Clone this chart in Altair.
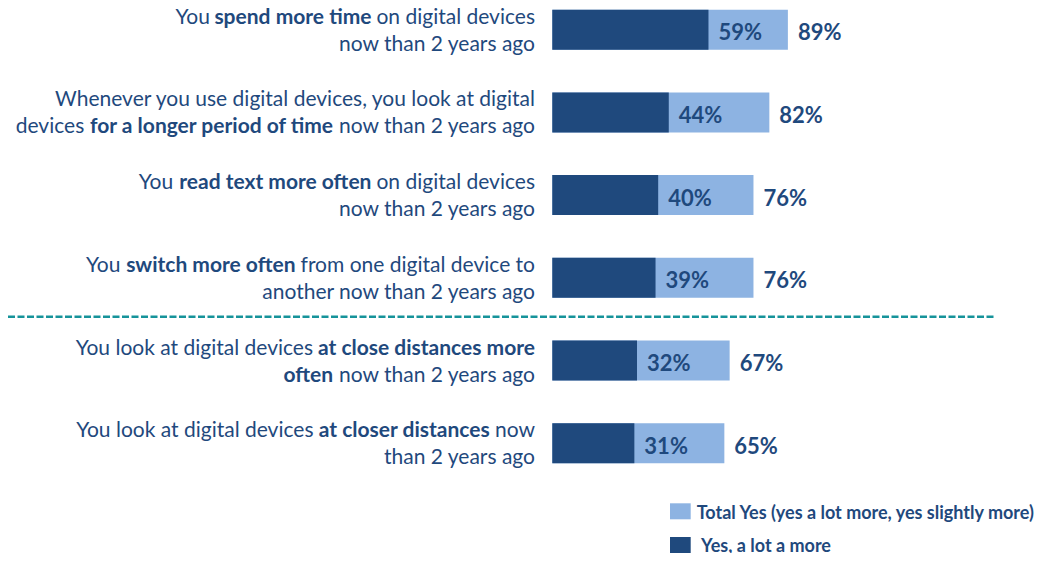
import os
import glob
import struct

import altair as alt
import pandas as pd

# ---------------- data ----------------
keys = ["Q1", "Q2", "Q3", "Q4", "Q5", "Q6"]
yes_a_lot = [59, 44, 40, 39, 32, 31]
total_yes = [89, 82, 76, 76, 67, 65]
series_names = ["Total Yes (yes a lot more, yes slightly more)", "Yes, a lot a more"]

# statement text: list of lines, each line a list of (segment, weight)
label_lines = [
    [[("You", "normal"), ("spend more time", "bold"), ("on digital devices", "normal")],
     [("now than 2 years ago", "normal")]],
    [[("Whenever you use digital devices, you look at digital", "normal")],
     [("devices", "normal"), ("for a longer period of time", "bold"), ("now than 2 years ago", "normal")]],
    [[("You", "normal"), ("read text more often", "bold"), ("on digital devices", "normal")],
     [("now than 2 years ago", "normal")]],
    [[("You", "normal"), ("switch more often", "bold"), ("from one digital device to", "normal")],
     [("another now than 2 years ago", "normal")]],
    [[("You look at digital devices", "normal"), ("at close distances more", "bold")],
     [("often", "bold"), ("now than 2 years ago", "normal")]],
    [[("You look at digital devices", "normal"), ("at closer distances", "bold"), ("now", "normal")],
     [("than 2 years ago", "normal")]],
]

# ---------------- style ----------------
DARK = "#1F497D"
LIGHT = "#8DB3E2"
TEXT = "#1F497D"
TEAL = "#16939A"
W, H = 1035, 545
LABEL_SIZE = 21
PCT_SIZE = 22
LEG_SIZE = 18


# ---------------- font metrics (for mixed-weight labels) ----------------
def _u16(b, o):
    return struct.unpack_from(">H", b, o)[0]


def _u32(b, o):
    return struct.unpack_from(">I", b, o)[0]


def load_metrics(path):
    b = open(path, "rb").read()
    base = _u32(b, 12) if b[:4] == b"ttcf" else 0
    num = _u16(b, base + 4)
    tables = {}
    for i in range(num):
        r = base + 12 + 16 * i
        tables[b[r:r + 4].decode("latin-1")] = _u32(b, r + 8)
    upem = _u16(b, tables["head"] + 18)
    nhm = _u16(b, tables["hhea"] + 34)
    hm = tables["hmtx"]
    adv = [_u16(b, hm + 4 * i) for i in range(nhm)]
    cm = tables["cmap"]
    sub = None
    for i in range(_u16(b, cm + 2)):
        pid = _u16(b, cm + 4 + 8 * i)
        eid = _u16(b, cm + 6 + 8 * i)
        off = _u32(b, cm + 8 + 8 * i)
        if _u16(b, cm + off) == 4 and ((pid == 3 and eid in (0, 1)) or pid == 0):
            sub = cm + off
            break
    cmap = {}
    segx2 = _u16(b, sub + 6)
    seg = segx2 // 2
    ends = sub + 14
    starts = ends + segx2 + 2
    deltas = starts + segx2
    ros = deltas + segx2
    for i in range(seg):
        e = _u16(b, ends + 2 * i)
        s = _u16(b, starts + 2 * i)
        d = _u16(b, deltas + 2 * i)
        ro = _u16(b, ros + 2 * i)
        for c in range(s, min(e, 0x2FF) + 1):
            if ro == 0:
                g = (c + d) & 0xFFFF
            else:
                g = _u16(b, ros + 2 * i + ro + 2 * (c - s))
                if g:
                    g = (g + d) & 0xFFFF
            cmap[c] = g
    return upem, adv, cmap


def find_file(name):
    dirs = ["/usr/share/fonts", "/usr/local/share/fonts",
            os.path.expanduser("~/.fonts"), os.path.expanduser("~/.local/share/fonts")]
    for d in dirs:
        if os.path.isdir(d):
            hits = glob.glob(os.path.join(d, "**", name), recursive=True)
            if hits:
                return hits[0]
    return None


FONT = "Lato"
metrics = None
for fam, reg, bold in [("Lato", "Lato-Regular.ttf", "Lato-Bold.ttf"),
                       ("Liberation Sans", "LiberationSans-Regular.ttf", "LiberationSans-Bold.ttf"),
                       ("DejaVu Sans", "DejaVuSans.ttf", "DejaVuSans-Bold.ttf")]:
    pr, pb = find_file(reg), find_file(bold)
    if pr and pb:
        try:
            metrics = {"normal": load_metrics(pr), "bold": load_metrics(pb)}
            FONT = fam
            break
        except Exception:
            metrics = None


def text_width(t, weight, size):
    if metrics is None:
        return len(t) * size * (0.49 if weight == "bold" else 0.465)
    upem, adv, cmap = metrics[weight]
    tot = 0
    for ch in t:
        g = cmap.get(ord(ch), 0)
        tot += adv[min(g, len(adv) - 1)]
    # small allowance for the kerning the browser applies
    return tot * size / upem * 0.995


# ---------------- layout ----------------
X_RIGHT = 527            # right edge of statement text (plot px)
X0, X100 = 544.3, 809.0  # pixel range of 0..100 %
STEP = 82.7
FIRST_CENTER = 21.7
y_range = [FIRST_CENTER - STEP / 2, FIRST_CENTER - STEP / 2 + 6 * STEP]

df = pd.DataFrame({
    "key": keys,
    "lot": yes_a_lot,
    "total": total_yes,
    "lot_label": [f"{v}%" for v in yes_a_lot],
    "total_label": [f"{v}%" for v in total_yes],
})

# each segment is right-aligned at its computed end; segments laid out right-to-left
seg_rows = []
space = text_width(" ", "normal", LABEL_SIZE)
for key, lines in zip(keys, label_lines):
    for li, line in enumerate(lines):
        cur_end = X_RIGHT
        for t, w in reversed(line):
            seg_rows.append({"key": key, "line": li, "weight": w, "text": t, "xpx": cur_end})
            cur_end -= text_width(t, w, LABEL_SIZE) + space
seg_df = pd.DataFrame(seg_rows)

yenc = alt.Y("key:N", sort=keys, axis=None,
             scale=alt.Scale(domain=keys, range=y_range, paddingInner=0.516, paddingOuter=0.258))
xscale = alt.Scale(domain=[0, 100], range=[X0, X100], zero=False, nice=False)

bars_total = alt.Chart(df).mark_bar(color=LIGHT).encode(
    x=alt.X("total:Q", scale=xscale, axis=None), y=yenc)
bars_lot = alt.Chart(df).mark_bar(color=DARK).encode(
    x=alt.X("lot:Q", scale=xscale, axis=None), y=yenc)

pct_inner = alt.Chart(df).mark_text(
    align="left", baseline="alphabetic", dx=10, dy=10.4, font=FONT,
    fontSize=PCT_SIZE, fontWeight="bold", color=DARK).encode(
    x=alt.X("lot:Q", scale=xscale, axis=None), y=yenc, text="lot_label:N")
pct_outer = alt.Chart(df).mark_text(
    align="left", baseline="alphabetic", dx=10, dy=10.4, font=FONT,
    fontSize=PCT_SIZE, fontWeight="bold", color=DARK).encode(
    x=alt.X("total:Q", scale=xscale, axis=None), y=yenc, text="total_label:N")

label_layers = []
for li, dy in [(0, -6), (1, 21)]:
    for w in ["normal", "bold"]:
        sub = seg_df[(seg_df["line"] == li) & (seg_df["weight"] == w)]
        if len(sub) == 0:
            continue
        label_layers.append(
            alt.Chart(sub).mark_text(
                align="right", baseline="alphabetic", dy=dy, font=FONT,
                fontSize=LABEL_SIZE, fontWeight=w, color=TEXT).encode(
                x=alt.X("xpx:Q", scale=None, axis=None), y=yenc, text="text:N"))

divider = alt.Chart(pd.DataFrame({"a": [0]})).mark_rule(
    color=TEAL, strokeWidth=2.5, strokeDash=[7, 2.5]).encode(
    x=alt.value(0), x2=alt.value(987), y=alt.value(308.7))

leg_colors = [LIGHT, DARK]
leg_box_y = [495.3, 529.0]
leg_text_x = [688.7, 693.0]
leg_text_y = [510.5, 543.5]
legend_layers = []
for name, col, by, tx, ty in zip(series_names, leg_colors, leg_box_y, leg_text_x, leg_text_y):
    one = pd.DataFrame({"name": [name]})
    legend_layers.append(alt.Chart(one).mark_rect(color=col).encode(
        x=alt.value(662), x2=alt.value(682.7), y=alt.value(by), y2=alt.value(by + 16)))
    legend_layers.append(alt.Chart(one).mark_text(
        align="left", baseline="alphabetic", font=FONT, fontSize=LEG_SIZE,
        fontWeight="bold", color=TEXT).encode(
        x=alt.value(tx), y=alt.value(ty), text="name:N"))

chart = alt.layer(
    bars_total, bars_lot, pct_inner, pct_outer, *label_layers, divider, *legend_layers
).properties(
    width=W, height=H, padding=0,
    autosize=alt.AutoSizeParams(type="none"),
    background="white",
).configure_view(strokeWidth=0)

chart.save("out.html", embed_options={"renderer": "svg", "actions": False})
